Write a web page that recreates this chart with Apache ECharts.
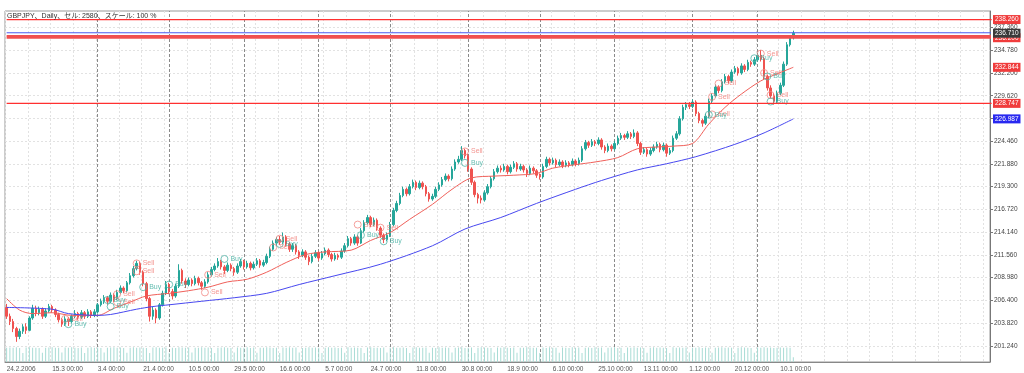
<!DOCTYPE html>
<html><head><meta charset="utf-8">
<script src="https://cdn.jsdelivr.net/npm/echarts@6/dist/echarts.min.js"></script>
<style>html,body{margin:0;padding:0;background:#fff}#c{width:1024px;height:373px}</style>
</head><body><div id="c"></div>
<script>
const tickLabels = ["24.2.2006","15.3 00:00","3.4 00:00","21.4 00:00","10.5 00:00","29.5 00:00","16.6 00:00","5.7 00:00","24.7 00:00","11.8 00:00","30.8 00:00","18.9 00:00","6.10 00:00","25.10 00:00","13.11 00:00","1.12 00:00","20.12 00:00","10.1 00:00"];
const priceTicks = [201.24,203.82,206.40,208.98,211.56,214.14,216.72,219.30,221.88,224.46,227.04,229.62,232.20,234.78,237.36];

const opens = [
205.6,204.6,204.0,203.2,202.3,202.9,203.4,203.0,204.4,205.5,
205.0,205.4,204.6,205.2,205.7,205.3,204.8,204.2,203.7,204.3,
204.0,204.6,204.9,204.5,205.0,204.6,205.1,204.7,205.1,205.9,
206.3,206.7,206.3,207.0,206.6,207.3,207.8,207.5,208.4,209.2,
210.0,210.6,209.6,208.3,206.6,204.6,205.3,204.4,205.9,207.2,
208.2,207.4,206.9,208.0,209.8,208.6,208.2,208.7,208.3,208.9,
208.4,208.0,208.5,209.3,209.9,210.3,210.8,210.2,209.8,210.4,
210.0,209.6,210.3,210.8,210.2,210.6,210.1,210.5,210.9,210.4,
210.7,211.4,212.2,212.9,213.3,213.0,213.6,212.8,212.2,212.6,
211.9,211.5,211.9,211.3,210.8,211.4,211.8,211.2,211.7,212.1,
211.6,211.1,211.5,211.3,212.0,212.6,213.4,212.9,213.6,212.9,
214.3,215.2,215.8,215.0,215.5,214.6,213.8,213.3,213.8,215.0,
216.6,217.4,218.3,219.0,218.5,219.3,219.8,219.2,219.7,219.3,
218.5,217.9,218.2,219.0,219.5,220.1,220.5,220.2,221.3,222.1,
222.4,223.4,222.8,221.3,219.8,218.4,218.0,217.8,218.6,219.3,
220.2,221.0,221.4,221.2,221.6,221.0,221.5,221.9,221.3,221.6,
221.2,220.8,221.4,221.1,220.6,220.4,221.6,222.4,222.0,222.3,
221.8,222.1,221.7,222.0,221.8,222.2,221.9,222.3,223.6,224.3,
224.0,224.4,224.2,224.6,223.8,223.4,223.9,223.6,224.2,224.8,
225.1,224.9,225.3,225.0,225.4,224.2,223.2,223.5,223.0,223.4,
223.8,224.1,223.5,224.0,223.1,223.4,224.8,225.3,227.0,228.3,
228.6,228.4,228.9,227.6,226.8,226.5,227.3,229.0,229.6,230.6,
230.2,231.2,231.8,231.3,232.3,232.7,232.2,233.0,232.6,233.4,
233.2,233.7,234.2,233.8,231.8,230.5,229.6,229.0,229.9,230.8,
233.2,235.4,236.2];
const closes = [
204.6,204.0,203.2,202.3,202.9,203.4,203.0,204.4,205.5,205.0,
205.4,204.6,205.2,205.7,205.3,204.8,204.2,203.7,204.3,204.0,
204.6,204.9,204.5,205.0,204.6,205.1,204.7,205.1,205.9,206.3,
206.7,206.3,207.0,206.6,207.3,207.8,207.5,208.4,209.2,210.0,
210.6,209.6,208.3,206.6,204.6,205.3,204.4,205.9,207.2,208.2,
207.4,206.9,208.0,209.8,208.6,208.2,208.7,208.3,208.9,208.4,
208.0,208.5,209.3,209.9,210.3,210.8,210.2,209.8,210.4,210.0,
209.6,210.3,210.8,210.2,210.6,210.1,210.5,210.9,210.4,210.7,
211.4,212.2,212.9,213.3,213.0,213.6,212.8,212.2,212.6,211.9,
211.5,211.9,211.3,210.8,211.4,211.8,211.2,211.7,212.1,211.6,
211.1,211.5,211.3,212.0,212.6,213.4,212.9,213.6,212.9,214.3,
215.2,215.8,215.0,215.5,214.6,213.8,213.3,213.8,215.0,216.6,
217.4,218.3,219.0,218.5,219.3,219.8,219.2,219.7,219.3,218.5,
217.9,218.2,219.0,219.5,220.1,220.5,220.2,221.3,222.1,222.4,
223.4,222.8,221.3,219.8,218.4,218.0,217.8,218.6,219.3,220.2,
221.0,221.4,221.2,221.6,221.0,221.5,221.9,221.3,221.6,221.2,
220.8,221.4,221.1,220.6,220.4,221.6,222.4,222.0,222.3,221.8,
222.1,221.7,222.0,221.8,222.2,221.9,222.3,223.6,224.3,224.0,
224.4,224.2,224.6,223.8,223.4,223.9,223.6,224.2,224.8,225.1,
224.9,225.3,225.0,225.4,224.2,223.2,223.5,223.0,223.4,223.8,
224.1,223.5,224.0,223.1,223.4,224.8,225.3,227.0,228.3,228.6,
228.4,228.9,227.6,226.8,226.5,227.3,229.0,229.6,230.6,230.2,
231.2,231.8,231.3,232.3,232.7,232.2,233.0,232.6,233.4,233.2,
233.7,234.2,233.8,231.8,230.5,229.6,229.0,229.9,230.8,233.2,
235.4,236.2,236.71];
const highs = [
206.0,204.9,204.3,203.4,203.2,203.7,203.8,204.6,205.9,205.8,
205.7,205.6,205.5,206.0,205.9,205.5,205.0,204.4,204.6,204.5,
204.8,205.3,205.1,205.3,205.2,205.4,205.3,205.4,206.1,206.6,
207.0,206.9,207.3,207.2,207.6,208.1,208.0,208.6,209.5,210.3,
210.9,210.8,209.8,208.5,206.8,205.7,205.5,206.1,207.5,208.6,
208.4,207.7,208.3,210.5,210.0,208.9,209.0,208.9,209.2,209.1,
208.6,208.8,209.6,210.2,210.6,211.2,211.0,210.4,210.7,210.6,
210.2,210.6,211.1,211.0,210.9,210.8,210.8,211.2,211.1,211.0,
211.7,212.5,213.2,213.6,213.7,214.1,213.8,213.0,212.9,212.8,
212.1,212.2,212.1,211.5,211.7,212.1,212.0,212.0,212.4,212.3,
211.8,211.8,211.7,212.3,212.9,213.7,213.6,213.9,213.8,214.6,
215.5,216.1,216.0,215.8,215.7,214.8,214.0,214.1,215.3,216.9,
217.7,218.6,219.3,219.2,219.6,220.1,220.0,220.0,219.9,219.5,
218.7,218.5,219.3,219.8,220.4,220.8,220.7,221.6,222.4,222.8,
223.9,223.6,223.0,221.5,220.0,218.6,218.3,218.9,219.6,220.5,
221.3,221.7,221.7,221.9,221.8,221.8,222.2,222.1,221.9,221.8,
221.4,221.7,221.6,221.3,220.8,221.9,222.7,222.6,222.6,222.5,
222.4,222.3,222.3,222.2,222.5,222.4,222.6,223.9,224.6,224.5,
224.7,224.6,224.9,224.8,224.0,224.2,224.1,224.5,225.1,225.4,
225.3,225.6,225.5,225.8,225.6,224.4,223.8,223.7,223.7,224.1,
224.4,224.3,224.3,224.2,223.7,225.1,225.6,227.3,228.6,228.9,
228.9,229.2,229.1,227.8,227.0,227.6,229.3,229.9,230.9,230.8,
231.5,232.1,232.0,232.6,233.0,232.9,233.3,233.2,233.7,233.6,
234.0,234.5,234.8,234.0,232.0,230.8,229.9,230.2,231.1,233.5,
235.7,236.5,237.0];
const lows = [
204.3,203.6,202.8,201.7,202.0,202.6,202.6,202.9,204.2,204.6,
204.7,204.3,204.4,205.0,205.0,204.5,203.9,203.4,203.5,203.5,
203.8,204.4,204.2,204.3,204.3,204.4,204.4,204.5,204.9,205.7,
206.0,205.9,206.1,206.2,206.4,207.1,207.2,207.3,208.2,209.0,
209.8,209.3,208.0,206.3,204.0,204.2,203.8,204.2,205.7,207.0,
207.1,206.5,206.7,207.8,208.3,207.8,208.0,208.0,208.1,208.1,
207.6,207.8,208.3,209.1,209.7,210.1,209.9,209.4,209.6,209.7,
209.2,209.4,210.1,209.9,210.0,209.8,209.9,210.3,210.1,210.2,
210.5,211.2,212.0,212.6,212.7,212.8,212.5,211.9,211.9,211.6,
211.1,211.3,211.0,210.4,210.6,211.2,210.9,211.0,211.5,211.3,
210.8,210.9,211.0,211.1,211.8,212.4,212.6,212.7,212.6,212.8,
214.1,215.0,214.7,214.8,214.3,213.5,212.9,213.1,213.6,214.8,
216.4,217.2,218.1,218.2,218.3,219.1,218.9,219.0,219.0,218.2,
217.6,217.7,218.0,218.8,219.3,219.9,219.9,220.0,221.1,221.9,
222.2,222.5,221.0,219.5,218.1,217.4,217.4,217.6,218.4,219.1,
220.0,220.8,220.9,221.0,220.7,220.8,221.3,221.0,221.1,220.9,
220.4,220.6,220.8,220.3,220.1,220.2,221.4,221.7,221.8,221.5,
221.6,221.4,221.5,221.5,221.6,221.6,221.7,222.1,223.4,223.7,
223.8,223.9,224.0,223.5,223.1,223.2,223.3,223.4,224.0,224.6,
224.6,224.7,224.7,224.8,223.9,222.9,223.0,222.7,222.8,223.2,
223.6,223.2,223.3,222.7,222.9,223.2,224.6,225.1,226.8,228.0,
228.1,228.2,227.3,226.5,226.1,226.3,227.1,228.8,229.4,229.9,
230.0,231.0,231.0,231.1,232.1,231.9,232.0,232.3,232.4,232.9,
233.0,233.5,233.5,231.5,230.2,229.3,228.6,228.8,229.7,230.6,
233.0,235.2,236.0];
const volumes = [
95,97,96,98,94,60,97,98,96,95,93,62,96,97,98,95,96,64,97,95,
98,96,93,97,61,96,98,95,97,94,63,96,97,98,95,97,94,62,96,98,
95,97,96,93,60,97,98,96,95,97,62,96,94,98,97,95,97,63,96,95,
98,96,97,94,61,95,97,98,96,93,64,97,95,96,98,94,97,62,95,96,
98,97,94,96,60,97,95,98,96,97,63,94,96,98,95,97,96,61,95,98,
96,97,94,95,62,98,96,97,95,94,61,97,98,96,95,93,97,64,96,98,
95,96,97,94,60,97,98,95,96,97,62,96,94,98,95,97,96,63,95,97,
98,94,96,97,61,95,98,97,96,94,63,97,95,98,96,94,97,62,96,95,
98,97,95,96,60,97,94,98,96,95,62,97,96,94,98,95,97,61,96,97,
94,98,95,97,63,96,97,98,94,95,61,97,96,98,95,97,94,62,96,98,
95,97,96,94,60,98,96,97,95,97,63,96,95,98,94,97,96,62,95,97,
98,96,97,95,61,96,98,97,95,94,62,97,96,98,95,97,94,96,97,95,
97,96,32];

const maFastIdx = [0,4,8,14,20,28,33,38,43,50,56,62,68,74,80,86,92,98,106,112,118,124,131,137,143,150,156,163,168,175,181,188,194,200,205,211,216,221,226,232,237,242];
const maFastVal = [206.6,205.3,204.9,205.0,204.7,204.7,205.5,206.2,206.9,207.2,207.5,207.9,208.5,208.8,209.6,210.7,211.6,211.9,212.1,213.2,214.1,215.6,217.3,219.0,220.3,220.5,220.6,220.8,221.4,221.8,222.1,222.6,223.6,223.8,223.9,224.2,226.4,228.3,229.8,231.3,232.1,232.844];
const maSlowIdx = [0,14,19,28,32,40,45,50,60,70,80,90,101,115,131,141,152,163,175,183,194,203,212,224,233,242];
const maSlowVal = [205.6,205.4,204.9,204.7,204.8,205.4,205.7,205.9,206.3,206.7,207.2,208.2,209.2,210.5,212.6,214.5,215.8,217.4,219.0,220.0,221.2,221.9,222.7,224.1,225.4,226.987];

const monthStarts = [28,50,73,96,118,142,164,187,211,231];
const sellIdx = [18,34,34,40,40,62,61,82,84,108,115,141,217,217,219,232,233,235];
const sellPrice = [204.3,207.1,206.2,210.6,209.7,209.3,207.3,212.4,213.4,215.0,214.65,223.3,227.5,229.5,231.0,234.4,232.2,229.7];
const buyIdx = [19,31,32,42,50,67,84,109,116,141,216,230,234,235];
const buyPrice = [203.7,206.45,205.7,207.9,208.2,211.1,212.8,213.8,213.1,222.0,227.46,233.87,231.8,228.96];

const redLevels = [238.260, 228.747];
const bandLevels = [236.40, 236.20];
const askLevel = 236.76;
const bidLevel = 236.710;
const maFastLast = 232.844;
const maSlowLast = 226.987;

const SLOTS = 303;
const cats = Array.from({length: SLOTS}, (_, i) => String(i));
const labelFn = i => i % 14 === 0 && i / 14 < tickLabels.length;
const gridFn = i => i % 7 === 0;
const FONT = 'Liberation Sans';

const chart = echarts.init(document.getElementById('c'), null, {renderer: 'canvas'});
const tagLabel = (bg, text) => ({
  show: true, position: 'end', distance: 3, formatter: text,
  backgroundColor: bg, color: '#fff', fontSize: 6.5, fontFamily: FONT, padding: [1, 2, 1, 2]
});
const clear = {color: 'rgba(0,0,0,0)', width: 1, type: 'solid'};
const hLine = (v, color, width, z) => ({
  type: 'line', z: z, symbol: 'none', silent: true, clip: false,
  data: [[-0.5, v], [SLOTS - 0.5, v]],
  lineStyle: {color: color, width: width, type: 'solid'}, itemStyle: {color: color}
});

chart.setOption({
  animation: false,
  backgroundColor: '#fff',
  grid: {left: 5, right: 34, top: 11, bottom: 10, show: true, borderColor: '#999', borderWidth: 1},
  xAxis: {
    type: 'category', data: cats, boundaryGap: true,
    axisLine: {lineStyle: {color: '#888'}},
    axisTick: {interval: labelFn, alignWithLabel: true, length: 3, lineStyle: {color: '#888'}},
    axisLabel: {interval: labelFn, formatter: (v, i) => tickLabels[i / 14] || '', align: 'left',
      fontSize: 6.5, color: '#555', margin: 4, fontFamily: FONT},
    splitLine: {show: true, interval: gridFn, lineStyle: {color: '#e2e2e2', type: [2, 2]}}
  },
  yAxis: [{
    type: 'value', position: 'right', min: 199.41, max: 239.23,
    axisLine: {show: true, lineStyle: {color: '#777'}},
    axisTick: {show: true, customValues: priceTicks, length: 3, lineStyle: {color: '#777'}},
    axisLabel: {customValues: priceTicks, formatter: v => v.toFixed(3), fontSize: 6.5, color: '#444', margin: 4, fontFamily: FONT},
    splitLine: {show: true, lineStyle: {color: '#e2e2e2', type: [2, 2]}}
  }, {
    type: 'value', min: 0, max: 2350, show: false
  }],
  graphic: [{
    type: 'text', left: 7, top: 13, z: 100,
    style: {text: 'GBPJPY、Daily、セル: 2580、スケール: 100 %', font: '7px "Liberation Sans", "Noto Sans CJK JP"', fill: '#333'}
  }],
  series: [
    {
      type: 'bar', yAxisIndex: 1, data: volumes, barWidth: 1, silent: true, z: 1,
      itemStyle: {color: '#a8dcd5'}
    },
    {
      type: 'candlestick', z: 2, barWidth: 2,
      data: opens.map((o, i) => [o, closes[i], lows[i], highs[i]]),
      itemStyle: {color: '#26a69a', color0: '#ef5350', borderColor: '#26a69a', borderColor0: '#ef5350', borderWidth: 1},
      markLine: {
        silent: true, symbol: ['none', 'none'], label: {show: false}, z: 1,
        lineStyle: {color: '#8a8a8a', type: [3, 2], width: 1},
        data: monthStarts.map(m => ({xAxis: m}))
      }
    },
    {
      type: 'line', z: 3, symbol: 'none', showSymbol: false, smooth: 0.3,
      data: maFastIdx.map((x, k) => [x, maFastVal[k]]),
      lineStyle: {color: '#f0605a', width: 1},
      itemStyle: {color: '#f0605a'}
    },
    {
      type: 'line', z: 3, symbol: 'none', showSymbol: false, smooth: 0.3,
      data: maSlowIdx.map((x, k) => [x, maSlowVal[k]]),
      lineStyle: {color: '#4848f0', width: 1},
      itemStyle: {color: '#4848f0'}
    },
    {
      type: 'scatter', z: 4, symbol: 'circle', symbolSize: 7,
      data: sellIdx.map((x, k) => [x, sellPrice[k]]),
      itemStyle: {color: 'rgba(0,0,0,0)', borderColor: '#f28a84', borderWidth: 1},
      label: {show: true, formatter: 'Sell', position: 'right', distance: 2, color: '#f07a74', fontSize: 7, fontFamily: FONT}
    },
    {
      type: 'scatter', z: 4, symbol: 'circle', symbolSize: 7,
      data: buyIdx.map((x, k) => [x, buyPrice[k]]),
      itemStyle: {color: 'rgba(0,0,0,0)', borderColor: '#52b4a8', borderWidth: 1},
      label: {show: true, formatter: 'Buy', position: 'right', distance: 2, color: '#3fae9f', fontSize: 7, fontFamily: FONT}
    },
    hLine(redLevels[0], '#ff3030', 1.2, 5),
    hLine(redLevels[1], '#ff3030', 1.2, 5),
    hLine(bandLevels[0], '#f05050', 2, 5),
    hLine(bandLevels[1], '#f05050', 2, 5),
    hLine(askLevel, '#4a5af0', 1, 5),
    {
      name: 'tagsRed', type: 'line', z: 6, symbol: 'none', data: [[242, bidLevel]],
      lineStyle: {width: 0, color: 'rgba(0,0,0,0)'}, itemStyle: {color: 'rgba(0,0,0,0)'},
      markLine: {
        silent: true, symbol: ['none', 'none'], z: 6, lineStyle: clear,
        data: [
          {yAxis: redLevels[0], lineStyle: clear, label: tagLabel('#f03c3c', redLevels[0].toFixed(3))},
          {yAxis: redLevels[1], lineStyle: clear, label: tagLabel('#f03c3c', redLevels[1].toFixed(3))},
          {yAxis: bandLevels[1], lineStyle: clear, label: tagLabel('#f03c3c', bandLevels[1].toFixed(3))},
          {yAxis: maFastLast, lineStyle: clear, label: tagLabel('#f03c3c', maFastLast.toFixed(3))},
          {yAxis: maSlowLast, lineStyle: clear, label: tagLabel('#2828f0', maSlowLast.toFixed(3))}
        ]
      }
    },
    {
      name: 'bid', type: 'line', z: 10, symbol: 'none', data: [[242, bidLevel]],
      lineStyle: {width: 0, color: 'rgba(0,0,0,0)'}, itemStyle: {color: 'rgba(0,0,0,0)'},
      markLine: {
        silent: true, symbol: ['none', 'none'], z: 10, lineStyle: clear,
        data: [{yAxis: bidLevel, lineStyle: clear, label: tagLabel('#3a3a3a', bidLevel.toFixed(3))}]
      }
    }
  ]
});
</script></body></html>
